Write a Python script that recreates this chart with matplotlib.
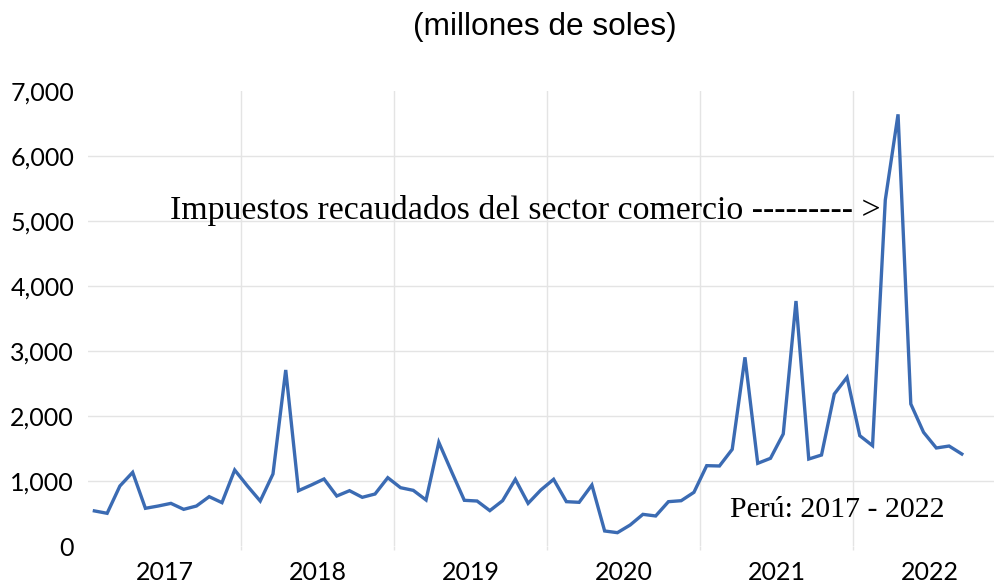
import matplotlib.pyplot as plt
import numpy as np
from matplotlib.ticker import FuncFormatter, FixedLocator

# impuestos recaudados del sector comercio, mensual (millones de soles)
years = ['2017', '2018', '2019', '2020', '2021', '2022']
v2017 = [540, 503, 923, 1133, 580, 615, 656, 564, 615, 759, 667, 1169]
v2018 = [923, 692, 1108, 2708, 851, 938, 1031, 769, 851, 749, 800, 1051]
v2019 = [897, 856, 708, 1595, 1144, 703, 692, 544, 697, 1026, 656, 862]
v2020 = [1026, 682, 672, 938, 231, 205, 323, 487, 462, 682, 697, 826]
v2021 = [1236, 1231, 1487, 2903, 1272, 1349, 1723, 3769, 1338, 1400, 2338, 2595]
v2022 = [1697, 1544, 5323, 6641, 2185, 1749, 1508, 1538, 1415]

values = v2017 + v2018 + v2019 + v2020 + v2021 + v2022
x = np.arange(len(values))

fig = plt.figure(figsize=(9.95, 5.84), dpi=100)
ax = fig.add_axes([88/995, 38/584, 907/995, 455/584])

ax.plot(x, values, color='#3b6bb3', lw=2.4, solid_joinstyle='miter')

ax.set_ylim(0, 7000)
ax.set_xlim(-0.5, 70.6)

# ejes y grilla
ax.set_yticks(np.arange(0, 7001, 1000))
ax.yaxis.set_major_formatter(FuncFormatter(lambda v, p: f'{int(v):,}'))
ax.xaxis.set_major_locator(FixedLocator([5.5 + 12*i for i in range(len(years))]))
ax.set_xticklabels(years)
ax.xaxis.set_minor_locator(FixedLocator([11.5 + 12*i for i in range(len(years) - 1)]))

ax.grid(axis='y', color='#e4e4e4', lw=1)
ax.grid(axis='x', which='minor', color='#e4e4e4', lw=1)
gl = ax.yaxis.get_gridlines()
gl[0].set_visible(False)
gl[-1].set_visible(False)

for s in ax.spines.values():
    s.set_visible(False)
ax.tick_params(axis='both', which='major', length=0, labelsize=18)
ax.tick_params(axis='y', pad=10)
ax.tick_params(axis='x', pad=11)
ax.tick_params(axis='x', which='minor', length=3, color='#e4e4e4', width=1)
for lab in ax.get_xticklabels() + ax.get_yticklabels():
    lab.set_fontfamily('Lato')

fig.text(0.548, 0.954, '(millones de soles)', ha='center', va='center',
         fontsize=22.8, family='Liberation Sans')

ax.text(5.93, 5031, 'Impuestos recaudados del sector comercio --------- >',
        ha='left', va='baseline', fontsize=24.4, family='Liberation Serif')
ax.text(49.8, 451, 'Perú: 2017 - 2022', ha='left', va='baseline',
        fontsize=21.5, family='Liberation Serif')

fig.savefig('out.png', dpi=100)
